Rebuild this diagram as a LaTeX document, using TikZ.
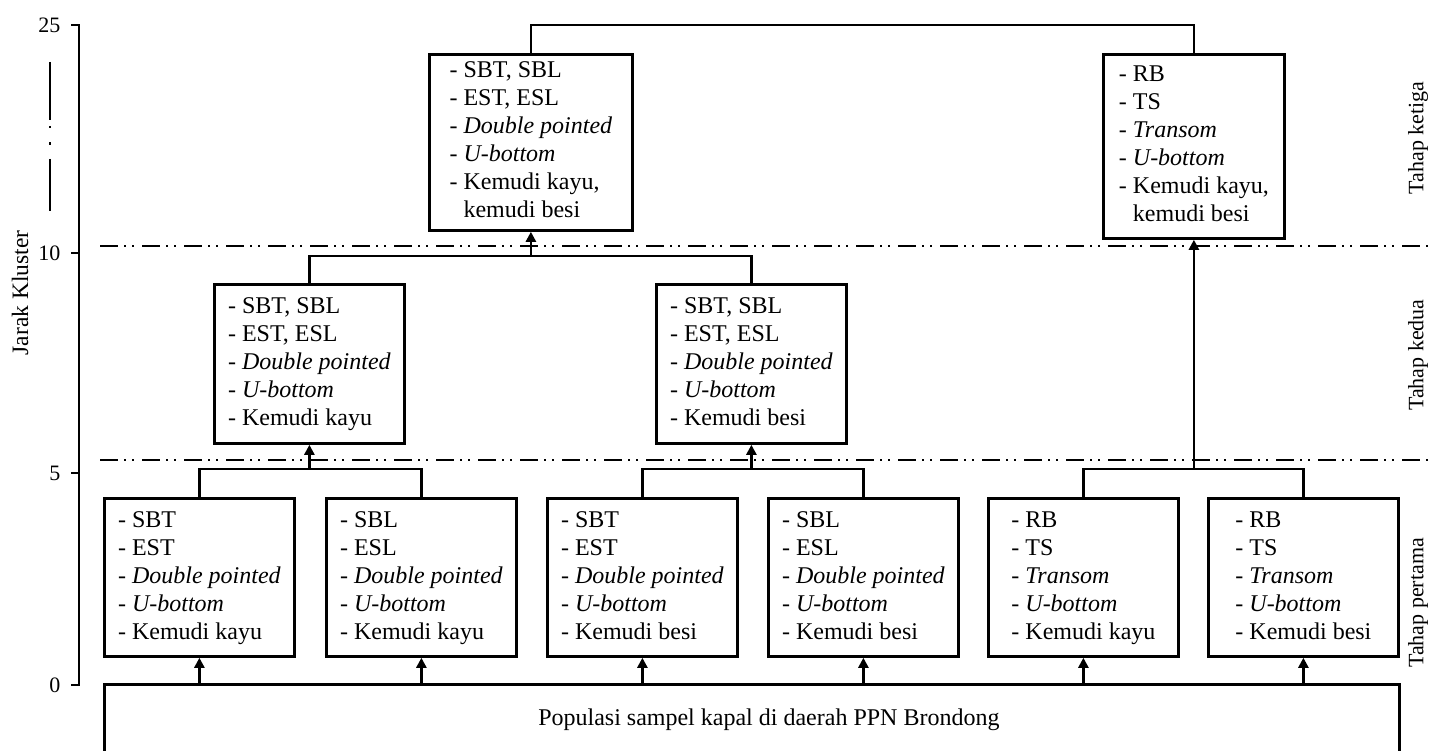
\documentclass[tikz,border=0pt]{standalone}
\usepackage{fontspec}
\setmainfont{Liberation Serif}
\usetikzlibrary{arrows.meta}

\tikzset{
  kotak/.style={draw, line width=2.8pt, inner sep=0pt, anchor=north west, font=\fontsize{24}{28}\selectfont},
  hubung/.style={line width=2.4pt},
  panah/.style={line width=2.4pt, -{Triangle[length=10pt,width=10pt]}},
  batas/.style={line width=2.8pt, dash pattern=on 18pt off 6pt on 2pt off 6pt on 2pt off 8pt},
  label/.style={font=\fontsize{22}{26}\selectfont, rotate=90},
  angka/.style={font=\fontsize{22}{26}\selectfont, anchor=east}
}
\newcommand{\isi}[1]{\begin{tabular}{@{}l@{\hspace{6pt}}l@{}}#1\end{tabular}}

\begin{document}
\begin{tikzpicture}[x=1pt, y=-1pt]
\useasboundingbox (0,0) rectangle (1431,751);

% axis
\draw[line width=2.6pt] (71,25) -- (79,25) -- (79,685) -- (71,685);
\draw[line width=2.6pt] (71,253) -- (79,253);
\draw[line width=2.6pt] (71,473) -- (79,473);
\node[angka] (a25) at (64,25) {25};
\node[angka] (a10) at (64,253) {10};
\node[angka] (a5) at (64,473) {5};
\node[angka] (a0) at (64,685) {0};
\draw[line width=2.8pt, dash pattern=on 58pt off 6pt on 2.5pt off 14pt on 2.5pt off 14pt on 52pt] (50,62) -- (50,212);
\node[label, font=\fontsize{23.5}{28}\selectfont] (jarak) at (20,293) {Jarak Kluster};

% stage borders
\draw[batas] (100,246) -- (1431,246);
\draw[batas] (100,460) -- (1431,460);
\node[label] (t3) at (1418,138) {Tahap ketiga};
\node[label] (t2) at (1418,355) {Tahap kedua};
\node[label] (t1) at (1418,603) {Tahap pertama};

% population
\node[kotak, minimum width=1295pt, minimum height=70pt] (pop) at (103,683) {\hspace*{34pt}Populasi sampel kapal di daerah PPN Brondong};

% first stage
\node[kotak, minimum width=190pt, minimum height=158pt] (p1) at (103,497) {\isi{-& SBT\\ -& EST\\ -& \textit{Double pointed}\\ -& \textit{U-bottom}\\ -& Kemudi kayu}};
\node[kotak, minimum width=190pt, minimum height=158pt] (p2) at (325,497) {\isi{-& SBL\\ -& ESL\\ -& \textit{Double pointed}\\ -& \textit{U-bottom}\\ -& Kemudi kayu}};
\node[kotak, minimum width=190pt, minimum height=158pt] (p3) at (546,497) {\isi{-& SBT\\ -& EST\\ -& \textit{Double pointed}\\ -& \textit{U-bottom}\\ -& Kemudi besi}};
\node[kotak, minimum width=190pt, minimum height=158pt] (p4) at (767,497) {\isi{-& SBL\\ -& ESL\\ -& \textit{Double pointed}\\ -& \textit{U-bottom}\\ -& Kemudi besi}};
\node[kotak, minimum width=190pt, minimum height=158pt] (p5) at (987,497) {\isi{-& RB\\ -& TS\\ -& \textit{Transom}\\ -& \textit{U-bottom}\\ -& Kemudi kayu}};
\node[kotak, minimum width=190pt, minimum height=158pt] (p6) at (1207,497) {\isi{-& RB\\ -& TS\\ -& \textit{Transom}\\ -& \textit{U-bottom}\\ -& Kemudi besi}};

% second stage
\node[kotak, minimum width=190pt, minimum height=159pt] (d1) at (213,283) {\isi{-& SBT, SBL\\ -& EST, ESL\\ -& \textit{Double pointed}\\ -& \textit{U-bottom}\\ -& Kemudi kayu}};
\node[kotak, minimum width=190pt, minimum height=159pt] (d2) at (655,283) {\isi{-& SBT, SBL\\ -& EST, ESL\\ -& \textit{Double pointed}\\ -& \textit{U-bottom}\\ -& Kemudi besi}};

% third stage
\node[kotak, minimum width=203pt, minimum height=176pt] (k1) at (428,53) {\isi{-& SBT, SBL\\ -& EST, ESL\\ -& \textit{Double pointed}\\ -& \textit{U-bottom}\\ -& Kemudi kayu,\\ & kemudi besi}};
\node[kotak, minimum width=181pt, minimum height=184pt] (k2) at (1102,53) {\isi{-& RB\\ -& TS\\ -& \textit{Transom}\\ -& \textit{U-bottom}\\ -& Kemudi kayu,\\ & kemudi besi}};

% population to first stage
\foreach \i in {1,...,6} {
    \draw[panah] (pop.north -| p\i.south) -- (p\i.south);
}

% joins
\coordinate (g1) at (d1.south |- 0,469);
\coordinate (g2) at (d2.south |- 0,469);
\coordinate (g3) at (k2.south |- 0,469);
\coordinate (g4) at (k1.south |- 0,256);
\draw[hubung] (p1.north) |- (g1) -| (p2.north);
\draw[hubung] (p3.north) |- (g2) -| (p4.north);
\draw[hubung] (p5.north) |- (g3) -| (p6.north);
\draw[hubung] (d1.north) |- (g4) -| (d2.north);
\draw[panah] (g1) -- (d1.south);
\draw[panah] (g2) -- (d2.south);
\draw[panah] (g3) -- (k2.south);
\draw[panah] (g4) -- (k1.south);
\draw[hubung] (k1.north) -- ++(0,-28) -| (k2.north);

\end{tikzpicture}
\end{document}
